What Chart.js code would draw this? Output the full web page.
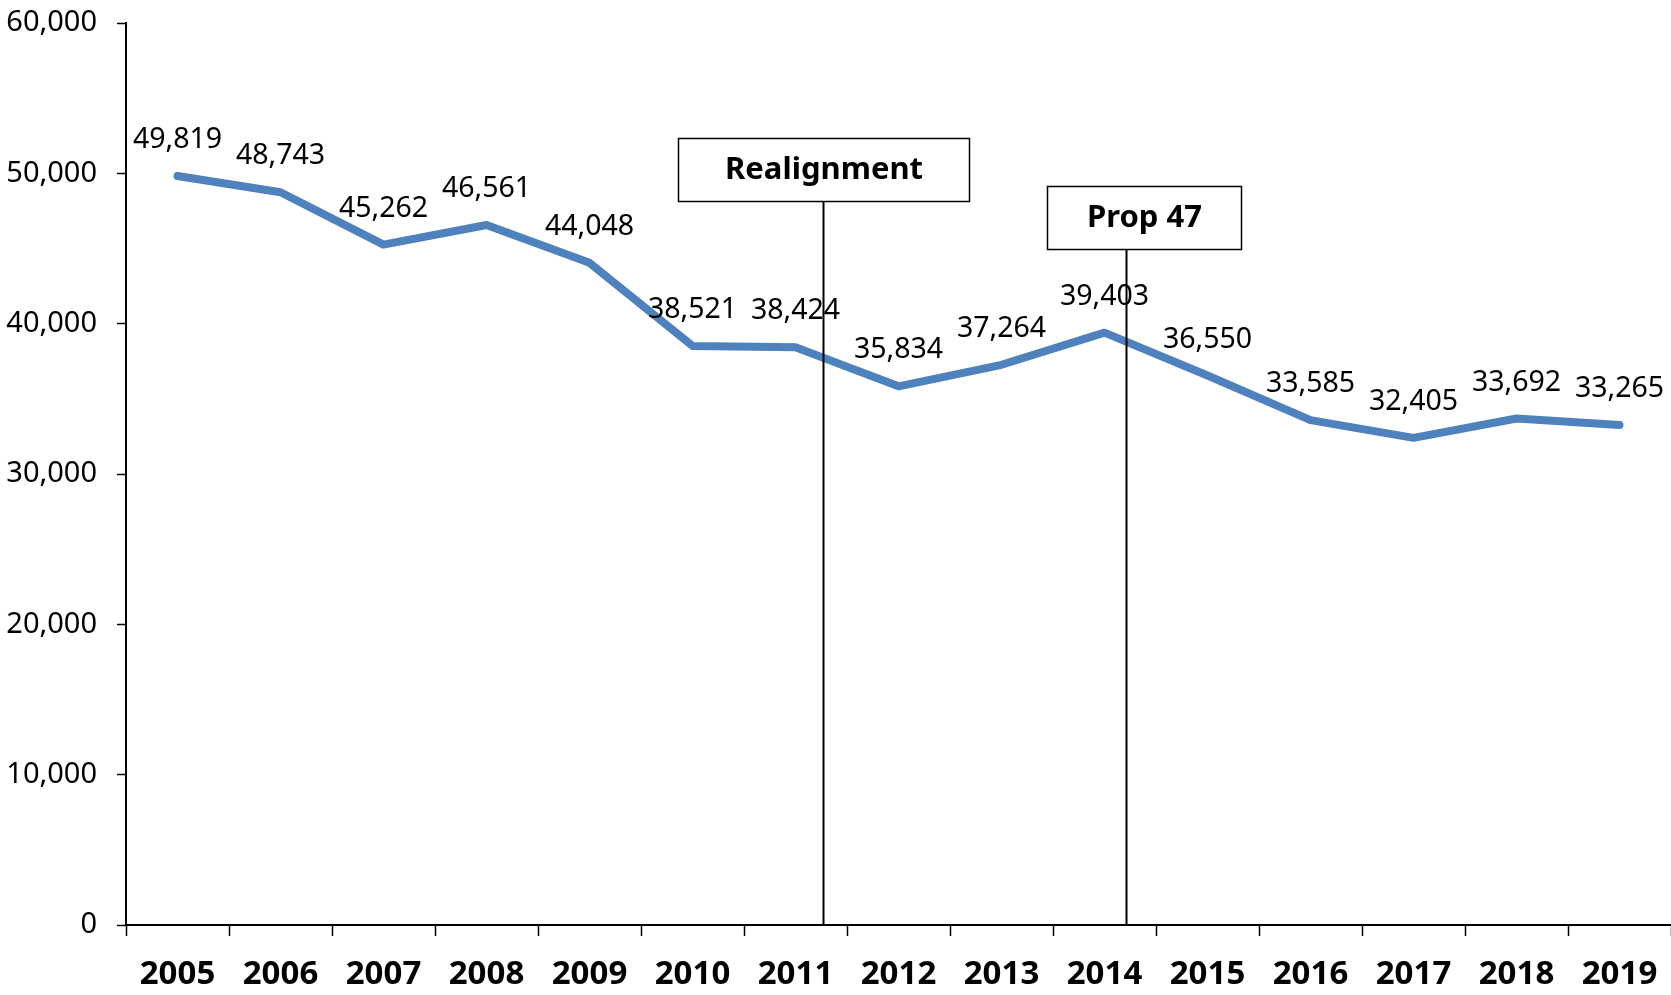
<!DOCTYPE html>
<html>
<head>
<meta charset="utf-8">
<script src="https://cdn.jsdelivr.net/npm/chart.js@4"></script>
<style>
  html, body { margin: 0; padding: 0; background: #fff; }
  #wrap { width: 1671px; height: 995px; }
</style>
</head>
<body>
<div id="wrap"><canvas id="chart" width="1671" height="995"></canvas></div>
<script>
// --- Data ---
const years = ['2005', '2006', '2007', '2008', '2009', '2010', '2011', '2012', '2013', '2014', '2015', '2016', '2017', '2018', '2019'];
const values = [49819, 48743, 45262, 46561, 44048, 38521, 38424, 35834, 37264, 39403, 36550, 33585, 32405, 33692, 33265];
const yTicks = [0, 10000, 20000, 30000, 40000, 50000, 60000];

// policy events, placed as fractional category index
const eventLabels = ['Realignment', 'Prop 47'];
const eventPositions = [6.27, 9.21];

const FONT = '"Noto Sans", "Open Sans", sans-serif';

// --- Plugins ---
const valueLabels = {
  id: 'valueLabels',
  afterDatasetsDraw(chart) {
    const ctx = chart.ctx;
    const meta = chart.getDatasetMeta(0);
    ctx.save();
    ctx.font = '28.5px ' + FONT;
    ctx.fillStyle = '#000';
    ctx.textAlign = 'center';
    ctx.textBaseline = 'middle';
    meta.data.forEach((pt, i) => {
      ctx.fillText(values[i].toLocaleString('en-US'), pt.x, pt.y - 36);
    });
    ctx.restore();
  }
};

const eventMarkers = {
  id: 'eventMarkers',
  afterDatasetsDraw(chart) {
    const ctx = chart.ctx;
    const x = chart.scales.x;
    const bottom = chart.chartArea.bottom;
    const boxes = [
      { top: 138, w: 291, h: 63, dx: 0 },
      { top: 186, w: 194, h: 63, dx: 17 }
    ];
    ctx.save();
    eventLabels.forEach((label, i) => {
      const base = Math.floor(eventPositions[i]);
      const frac = eventPositions[i] - base;
      const step = x.getPixelForValue(base + 1) - x.getPixelForValue(base);
      const px = Math.round(x.getPixelForValue(base) + frac * step) + 0.5;
      const b = boxes[i];
      // vertical line
      ctx.strokeStyle = '#000';
      ctx.lineWidth = 2;
      ctx.beginPath();
      ctx.moveTo(px, b.top + b.h);
      ctx.lineTo(px, bottom);
      ctx.stroke();
      // box
      const left = Math.round(px + b.dx - b.w / 2) + 0.5;
      ctx.fillStyle = '#fff';
      ctx.fillRect(left, b.top + 0.5, b.w, b.h);
      ctx.lineWidth = 1.5;
      ctx.strokeRect(left, b.top + 0.5, b.w, b.h);
      ctx.fillStyle = '#000';
      ctx.font = 'bold 31px ' + FONT;
      ctx.textAlign = 'center';
      ctx.textBaseline = 'middle';
      ctx.fillText(label, left + b.w / 2, b.top + b.h / 2 + 1);
    });
    ctx.restore();
  }
};

// --- Chart ---
new Chart(document.getElementById('chart'), {
  type: 'line',
  data: {
    labels: years,
    datasets: [{
      data: values,
      borderColor: '#4F81BD',
      borderWidth: 8,
      borderCapStyle: 'round',
      borderJoinStyle: 'round',
      pointRadius: 0,
      tension: 0,
      fill: false
    }]
  },
  options: {
    responsive: false,
    animation: false,
    events: [],
    layout: { padding: { top: 23, right: 0, left: 0, bottom: 0 } },
    plugins: {
      legend: { display: false },
      tooltip: { enabled: false }
    },
    scales: {
      x: {
        offset: true,
        grid: {
          offset: true,
          drawOnChartArea: false,
          drawTicks: true,
          tickLength: 11,
          tickWidth: 1.5,
          tickColor: '#000'
        },
        border: { color: '#000', width: 2 },
        ticks: {
          color: '#000',
          font: { family: FONT, size: 33, weight: 'bold' },
          padding: 19,
          maxRotation: 0,
          autoSkip: false
        },
        afterFit(scale) {
          scale.height = 70;
          scale.paddingLeft = 0;
          scale.paddingRight = 0;
        }
      },
      y: {
        min: 0,
        max: 60000,
        afterBuildTicks(scale) { scale.ticks = yTicks.map(v => ({ value: v })); },
        grid: {
          drawOnChartArea: false,
          drawTicks: true,
          tickLength: 9,
          tickWidth: 1.5,
          tickColor: '#000'
        },
        border: { color: '#000', width: 2 },
        ticks: {
          color: '#000',
          font: { family: FONT, size: 29 },
          padding: 20,
          callback: v => v.toLocaleString('en-US')
        },
        afterFit(scale) {
          scale.width = 126;
          scale.paddingTop = 0;
          scale.paddingBottom = 0;
        }
      }
    }
  },
  plugins: [valueLabels, eventMarkers]
});
</script>
</body>
</html>
